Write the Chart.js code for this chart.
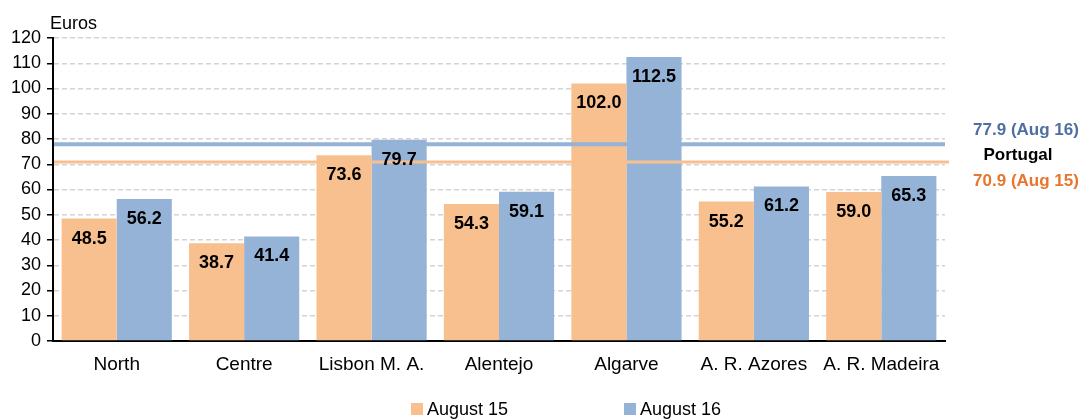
<!DOCTYPE html>
<html>
<head>
<meta charset="utf-8">
<script src="https://cdn.jsdelivr.net/npm/chart.js@4"></script>
<style>
  html, body { margin: 0; padding: 0; background: #fff; }
  .wrap { width: 1083px; height: 419px; position: relative; }
</style>
</head>
<body>
<div class="wrap"><canvas id="chart"></canvas></div>
<script>
      // data
      const regions = ["North", "Centre", "Lisbon M. A.", "Alentejo", "Algarve", "A. R. Azores", "A. R. Madeira"];
      const aug15 = [48.5, 38.7, 73.6, 54.3, 102.0, 55.2, 59.0];
      const aug16 = [56.2, 41.4, 79.7, 59.1, 112.5, 61.2, 65.3];
      const seriesNames = ["August 15", "August 16"];
      const portugalAug16 = 77.9;
      const portugalAug15 = 70.9;
      const yTicks = [0, 10, 20, 30, 40, 50, 60, 70, 80, 90, 100, 110, 120];

      const ORANGE = "#F9C08F";
      const BLUE = "#95B3D7";
      const FONT = "'Liberation Sans', Arial, sans-serif";

      // reference lines + labels + legend
      const extras = {
        id: "extras",
        afterDatasetsDraw(chart) {
          const { ctx, chartArea, scales } = chart;
          const y = scales.y;

          ctx.save();
          // Portugal lines
          ctx.lineWidth = 4;
          ctx.strokeStyle = BLUE;
          ctx.beginPath();
          ctx.moveTo(chartArea.left + 1, y.getPixelForValue(portugalAug16));
          ctx.lineTo(chartArea.right, y.getPixelForValue(portugalAug16));
          ctx.stroke();
          ctx.lineWidth = 3;
          ctx.strokeStyle = ORANGE;
          ctx.beginPath();
          ctx.moveTo(chartArea.left + 1, y.getPixelForValue(portugalAug15));
          ctx.lineTo(chartArea.right + 4, y.getPixelForValue(portugalAug15));
          ctx.stroke();

          // bar value labels
          ctx.font = "bold 18px " + FONT;
          ctx.fillStyle = "#000";
          ctx.textAlign = "center";
          ctx.textBaseline = "middle";
          chart.data.datasets.forEach((ds, di) => {
            chart.getDatasetMeta(di).data.forEach((bar, i) => {
              ctx.fillText(ds.data[i].toFixed(1), bar.x, bar.y + 20);
            });
          });

          // right side annotation
          ctx.font = "bold 17px " + FONT;
          const cx = chartArea.right + 81;
          ctx.fillStyle = "#4F6FA0";
          ctx.fillText(portugalAug16.toFixed(1) + " (Aug 16)", cx, 130);
          ctx.fillStyle = "#000";
          ctx.fillText("Portugal", cx - 8, 155);
          ctx.fillStyle = "#E8762D";
          ctx.fillText(portugalAug15.toFixed(1) + " (Aug 15)", cx, 181);

          // axis title
          ctx.font = "18px " + FONT;
          ctx.textAlign = "left";
          ctx.fillStyle = "#000";
          ctx.fillText("Euros", chartArea.left - 3, 24);

          // legend
          const legendX = [411, 624];
          const colors = [ORANGE, BLUE];
          legendX.forEach((lx, i) => {
            ctx.fillStyle = colors[i];
            ctx.fillRect(lx, 403, 12, 12);
            ctx.fillStyle = "#000";
            ctx.fillText(seriesNames[i], lx + 16, 410);
          });
          ctx.restore();
        },
      };

      const ctx = document.getElementById("chart").getContext("2d");

      new Chart(ctx, {
        type: "bar",
        data: {
          labels: regions,
          datasets: [
            {
              label: seriesNames[0],
              data: aug15,
              backgroundColor: ORANGE,
              categoryPercentage: 0.865,
              barPercentage: 1,
            },
            {
              label: seriesNames[1],
              data: aug16,
              backgroundColor: BLUE,
              categoryPercentage: 0.865,
              barPercentage: 1,
            },
          ],
        },
        plugins: [extras],
        options: {
          maintainAspectRatio: false,
          responsive: true,
          animation: false,
          layout: {
            padding: { top: 38, right: 138, left: 0, bottom: 0 },
          },
          plugins: {
            legend: { display: false },
            tooltip: { enabled: false },
          },
          scales: {
            x: {
              grid: { display: false },
              border: { display: true, color: "#000", width: 2 },
              ticks: {
                color: "#000",
                font: { family: FONT, size: 19 },
                padding: 4,
              },
              afterFit(scale) {
                scale.height = 78;
              },
            },
            y: {
              min: 0,
              max: 120,
              afterBuildTicks(scale) {
                scale.ticks = yTicks.map((v) => ({ value: v }));
              },
              grid: {
                color: "#d4d4d4",
                lineWidth: 1.5,
                drawTicks: true,
                tickLength: 6,
                tickColor: "#000",
                tickWidth: 1.5,
              },
              border: { display: true, color: "#000", width: 2, dash: [5, 3] },
              ticks: {
                color: "#000",
                font: { family: FONT, size: 18 },
                padding: 6,
              },
              afterFit(scale) {
                scale.width = 53;
              },
            },
          },
        },
      });
</script>
</body>
</html>
